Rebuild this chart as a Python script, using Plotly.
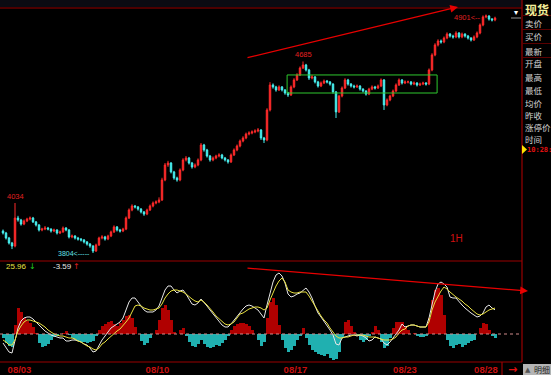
import plotly.graph_objects as go

# ---------------- data ----------------
OPEN = [3905,3896,3873,3850,3836,3965,3956,3937,3951,3960,
3965,3947,3933,3910,3914,3919,3914,3905,3910,3896,
3901,3919,3910,3878,3882,3873,3868,3864,3855,3845,
3836,3813,3841,3873,3878,3868,3882,3901,3924,3910,
3905,3914,3965,4002,4020,4016,4006,3993,3983,4002,
4020,4034,4039,4048,4140,4209,4218,4177,4149,4140,
4186,4232,4241,4218,4200,4209,4232,4301,4278,4250,
4232,4241,4250,4255,4241,4232,4223,4255,4278,4296,
4319,4333,4351,4356,4361,4365,4370,4333,4324,4462,
4577,4568,4554,4568,4554,4540,4531,4568,4600,4623,
4655,4669,4646,4609,4614,4591,4572,4586,4595,4591,
4581,4545,4453,4526,4563,4600,4581,4572,4568,4572,
4558,4549,4535,4558,4568,4563,4572,4600,4485,4508,
4526,4549,4577,4600,4586,4591,4591,4581,4586,4577,
4581,4586,4581,4646,4715,4761,4779,4775,4793,4811,
4802,4798,4816,4798,4811,4802,4793,4784,4798,4816,
4853,4890,4894,4880,4876]

CLOSE = [3896,3873,3850,3836,3965,3956,3937,3951,3960,3965,
3947,3933,3910,3914,3919,3914,3905,3910,3896,3901,
3919,3910,3878,3882,3873,3868,3864,3855,3845,3836,
3813,3841,3873,3878,3868,3882,3901,3924,3910,3905,
3914,3965,4002,4020,4016,4006,3993,3983,4002,4020,
4034,4039,4048,4140,4209,4218,4177,4149,4140,4186,
4232,4241,4218,4200,4209,4232,4301,4278,4250,4232,
4241,4250,4255,4241,4232,4223,4255,4278,4296,4319,
4333,4351,4356,4361,4365,4370,4333,4324,4462,4577,
4568,4554,4568,4554,4540,4531,4568,4600,4623,4655,
4669,4646,4609,4614,4591,4572,4586,4595,4591,4581,
4545,4453,4526,4563,4600,4581,4572,4568,4572,4558,
4549,4535,4558,4568,4563,4572,4600,4485,4508,4526,
4549,4577,4600,4586,4591,4591,4581,4586,4577,4581,
4586,4581,4646,4715,4761,4779,4775,4793,4811,4802,
4798,4816,4798,4811,4802,4793,4784,4798,4816,4853,
4890,4894,4880,4876,4885]

HIGH = [3912,3901,3878,3855,4034,3975,3961,3958,3966,3972,
3970,3951,3937,3920,3928,3924,3918,3916,3913,3907,
3926,3923,3914,3889,3886,3878,3873,3868,3859,3850,
3840,3847,3879,3886,3883,3888,3907,3931,3928,3915,
3920,3972,4009,4028,4025,4020,4011,3997,4008,4027,
4041,4046,4060,4150,4218,4228,4222,4182,4155,4193,
4240,4250,4246,4223,4216,4239,4310,4306,4283,4255,
4248,4256,4263,4260,4246,4236,4262,4285,4303,4326,
4341,4358,4364,4368,4373,4379,4374,4338,4470,4590,
4584,4573,4575,4572,4558,4545,4575,4608,4631,4662,
4685,4674,4651,4623,4618,4596,4593,4602,4600,4595,
4585,4549,4532,4570,4608,4605,4586,4578,4579,4576,
4562,4553,4564,4575,4573,4579,4607,4604,4515,4532,
4556,4584,4607,4604,4598,4597,4595,4593,4590,4588,
4592,4590,4653,4723,4769,4787,4786,4800,4819,4816,
4808,4824,4820,4818,4815,4807,4797,4805,4823,4860,
4897,4901,4898,4885,4891]

LOW = [3889,3866,3843,3822,3830,3948,3930,3932,3946,3954,
3942,3926,3903,3904,3909,3908,3898,3900,3889,3891,
3897,3904,3871,3872,3866,3861,3857,3848,3838,3828,
3804,3809,3836,3867,3861,3863,3877,3896,3903,3898,
3900,3909,3960,3996,4009,3999,3986,3975,3978,3997,
4014,4028,4033,4043,4134,4200,4170,4141,4132,4134,
4180,4225,4211,4192,4194,4203,4226,4270,4243,4224,
4226,4235,4244,4235,4225,4215,4218,4250,4272,4290,
4313,4327,4345,4350,4355,4359,4324,4310,4318,4455,
4560,4546,4549,4547,4532,4522,4526,4562,4595,4618,
4650,4639,4600,4603,4584,4565,4567,4581,4584,4574,
4537,4425,4448,4520,4558,4574,4565,4561,4563,4551,
4542,4528,4530,4553,4556,4558,4567,4462,4479,4502,
4521,4544,4572,4579,4581,4584,4575,4576,4570,4572,
4576,4574,4576,4640,4709,4754,4767,4769,4787,4795,
4790,4792,4791,4792,4795,4786,4777,4779,4792,4810,
4847,4884,4873,4869,4870]

DIF = [-9,-14,-18,-19,-6,6,13,16,17,17,
15,12,9,5,3,1,-1,-2,-3,-4,
-4,-7,-7,-6,-6,-7,-8,-10,-11,-14,
-18,-17,-11,-6,-2,2,6,8,10,12,
16,24,32,36,36,32,28,24,22,22,
22,24,28,36,44,48,48,44,41,43,
44,40,35,30,29,31,35,32,28,24,
20,16,12,9,7,7,10,14,17,21,
25,28,29,28,26,24,20,16,29,41,
52,59,61,58,51,40,37,38,40,41,
44,46,42,36,28,21,17,13,9,4,
-1,-10,-11,-4,-3,-2,-1,-1,-2,-1,
-2,-4,-7,-6,-3,-4,-5,-9,-11,-8,
-4,-1,4,10,7,8,9,9,8,7,
7,7,16,30,42,50,52,50,47,37,
36,36,32,29,26,23,21,19,17,18,
21,27,29,26,24.17]

DEA = [-6,-8,-11,-11,-6,3,8,12,14,14,
13,12,11,9,7,4,2,0,-1,-2,
-2,-3,-4,-4,-5,-7,-8,-10,-12,-13,
-15,-16,-14,-10,-8,-5,-2,1,3,5,
8,12,16,22,28,29,28,26,25,24,
24,25,26,30,36,40,43,44,44,43,
42,40,37,35,33,32,34,32,29,26,
22,18,15,12,10,9,10,12,16,20,
21,23,25,26,27,27,26,24,26,34,
42,48,53,56,52,44,42,41,41,42,
42,42,38,33,27,22,18,14,11,6,
2,-2,-4,-4,-3,-3,-2,-1,-1,-1,
-1,-2,-3,-3,-3,-4,-5,-6,-6,-6,
-5,-3,1,4,5,8,9,9,8,7,
7,7,12,24,32,38,43,47,45,42,
39,37,35,33,30,28,25,22,20,19,
20,22,24,25,25.96]

HIST = [-4,-9,-12,-13,9,26,22,16,13,11,
7,1,-9,-13,-12,-10,-6,-3,-2,0,
1,3,-1,-4,-6,-7,-8,-8,-9,-8,
-7,-2,4,8,10,12,13,10,8,11,
14,18,19,16,7,0,-7,-11,-9,-4,
0,4,14,26,29,24,14,2,0,4,
6,-2,-8,-12,-13,-10,-6,-10,-13,-14,
-13,-11,-12,-9,-6,-2,4,8,10,11,
11,10,8,4,0,-6,-12,-8,16,32,
36,29,9,-6,-14,-18,-16,-12,-6,-2,
6,-4,-11,-16,-18,-20,-21,-22,-20,-24,
-26,-25,-18,-4,12,14,8,2,-2,-6,
-8,-6,-2,2,8,4,-8,-14,-12,-4,
6,12,12,12,8,4,0,1,-2,-3,
-3,-2,16,34,44,46,39,19,-6,-12,
-14,-11,-10,-13,-11,-9,-7,-6,0,6,
11,10,4,-2,-3.59]

IDX = list(range(len(CLOSE)))
DATE_LABELS = ["08/03", "08/10", "08/17", "08/23", "08/28"]
DATE_IDX = [5.5, 51.5, 97.5, 134, 161]
RIGHT_LABELS = ["卖价", "买价", "最新", "开盘", "最高", "最低", "均价", "昨收", "涨停价", "时间"]
PEAK_LABELS = [("4034", 4, 4034), ("4685", 100, 4685)]

# ---------------- style ----------------
W, H = 551, 375
def px(x): return x / W
def py(y): return 1 - y / H

UP = "#ff2a2a"
DN = "#48f0f0"
FRAME = "#9a0000"
LINE_RED = "#e80000"

fig = go.Figure()
fig.add_trace(go.Candlestick(
    x=IDX, open=OPEN, high=HIGH, low=LOW, close=CLOSE,
    increasing=dict(line=dict(color=UP, width=1), fillcolor=UP),
    decreasing=dict(line=dict(color=DN, width=1), fillcolor=DN),
    whiskerwidth=0, hoverinfo="skip", xaxis="x", yaxis="y"))

fig.add_trace(go.Bar(
    x=IDX, y=HIST, width=1.0,
    marker=dict(color=["#b00000" if v >= 0 else "#20b0b0" for v in HIST], line=dict(width=0)),
    xaxis="x2", yaxis="y2", hoverinfo="skip"))
fig.add_trace(go.Scatter(x=IDX, y=DIF, mode="lines", line=dict(color="#e6e6e6", width=1),
                         xaxis="x2", yaxis="y2", hoverinfo="skip"))
fig.add_trace(go.Scatter(x=IDX, y=DEA, mode="lines", line=dict(color="#e8e040", width=1),
                         xaxis="x2", yaxis="y2", hoverinfo="skip"))

shapes = []
def hline(y, x0, x1, color=FRAME, width=1.2, dash="solid"):
    shapes.append(dict(type="line", xref="paper", yref="paper", x0=px(x0), x1=px(x1),
                       y0=py(y), y1=py(y), line=dict(color=color, width=width, dash=dash)))
def vline(x, y0, y1, color=FRAME, width=1.2):
    shapes.append(dict(type="line", xref="paper", yref="paper", x0=px(x), x1=px(x),
                       y0=py(y0), y1=py(y1), line=dict(color=color, width=width)))

# faint top strip
shapes.append(dict(type="rect", xref="paper", yref="paper", x0=0, x1=px(522),
                   y0=py(7), y1=1, fillcolor="#0b0b12", line=dict(width=0), layer="below"))
hline(8, 0, 522)
hline(261, 0, 522)
hline(362, 0, 522)
vline(522, 0, 362)
vline(502, 362, 375)
for yy in (15.5, 29.5, 43.5, 57.5):
    hline(yy, 523, 551, color="#5a0000", width=1)
hline(18, 511, 521, color="#909090", width=1)
# zero line of MACD
shapes.append(dict(type="line", xref="paper", yref="y2", x0=0, x1=px(521), y0=0, y1=0,
                   line=dict(color="#d08a8a", width=1, dash="dot")))
# consolidation box
shapes.append(dict(type="rect", xref="x", yref="y", x0=94.7, x1=144.7, y0=4540, y1=4623,
                   line=dict(color="#2ec82e", width=1)))
# bottom-right button
shapes.append(dict(type="rect", xref="paper", yref="paper", x0=px(523), x1=px(551),
                   y0=py(375), y1=py(364), fillcolor="#b4b4b4", line=dict(width=0)))
# yellow pointer
shapes.append(dict(type="path", xref="paper", yref="paper",
                   path=f"M {px(522)} {py(145)} L {px(527)} {py(149.5)} L {px(522)} {py(154)} Z",
                   fillcolor="#ffe000", line=dict(width=0)))

ann = []
def ptxt(x, y, text, font, xa="left", ya="middle"):
    ann.append(dict(xref="paper", yref="paper", x=px(x), y=py(y), text=text, showarrow=False,
                    xanchor=xa, yanchor=ya, font=font))

# trend arrows
ann.append(dict(xref="paper", yref="paper", x=px(458), y=py(7), ax=246 - 458, ay=58 - 7,
                text="", showarrow=True, arrowhead=2, arrowsize=1.2, arrowwidth=1.3,
                arrowcolor=LINE_RED, standoff=0))
ann.append(dict(xref="paper", yref="paper", x=px(528), y=py(291), ax=246 - 528, ay=268 - 291,
                text="", showarrow=True, arrowhead=2, arrowsize=1.2, arrowwidth=1.3,
                arrowcolor=LINE_RED, standoff=0))
numfont = dict(family="Liberation Sans", size=7.5, color="#e02020")
for t, i, v in PEAK_LABELS:
    ann.append(dict(xref="x", yref="y", x=i, y=v, text=t, showarrow=False,
                    xanchor="center", yanchor="bottom", font=numfont))
ann.append(dict(xref="x", yref="y", x=30, y=3804, text="3804<-----", showarrow=False,
                xanchor="right", yanchor="middle", xshift=-1,
                font=dict(family="Liberation Sans", size=7, color="#60e0e8")))
ann.append(dict(xref="x", yref="y", x=161, y=4901, text="4901<--", showarrow=False,
                xanchor="right", yanchor="middle", xshift=-3, yshift=-3, font=numfont))
ptxt(456, 238, "1H", dict(family="Liberation Sans", size=10, color="#d01010"), xa="center")
# MACD value labels
small = 8
ptxt(4, 266, "25.96", dict(family="Liberation Sans", size=small, color="#e8e040"))
ptxt(27, 266, "↓", dict(family="DejaVu Sans", size=small, color="#20d020"))
ptxt(51, 266, "-3.59", dict(family="Liberation Sans", size=small, color="#e6e6e6"))
ptxt(71, 266, "↑", dict(family="DejaVu Sans", size=small, color="#e02020"))
# right panel
cjk = "Noto Sans CJK SC"
ptxt(523, 9, "<b>现货</b>", dict(family=cjk, size=12, color="#f4ee9a"))
for lab, yy in zip(RIGHT_LABELS, [23, 36, 51, 63, 77, 90, 103, 115, 127, 139]):
    ptxt(523, yy, lab, dict(family=cjk, size=8.5, color="#d4d4d4"))
ptxt(525, 150, "<b>10:28:</b>", dict(family="DejaVu Sans Mono", size=7, color="#e01010"))
ptxt(516, 12, "▾", dict(family="DejaVu Sans", size=8, color="#ffffff"), xa="center")
ptxt(512, 369, "<b>→</b>", dict(family="DejaVu Sans", size=11, color="#e01010"), xa="center")
ptxt(528, 369.5, "▲", dict(family="DejaVu Sans", size=7, color="#555555"), xa="center")
ptxt(542, 369.5, "明细", dict(family=cjk, size=8, color="#202020"), xa="center")

xdom = [0, px(522)]
fig.update_layout(
    width=W, height=H, margin=dict(l=0, r=0, t=0, b=0),
    paper_bgcolor="#000000", plot_bgcolor="#000000", showlegend=False,
    bargap=0, hovermode=False,
    xaxis=dict(domain=xdom, range=[-1, 173], showgrid=False, zeroline=False, showline=False,
               showticklabels=False, rangeslider=dict(visible=False), anchor="y"),
    yaxis=dict(domain=[py(261), py(8)], range=[3767.2, 4931], showgrid=False, zeroline=False,
               showline=False, showticklabels=False, anchor="x"),
    xaxis2=dict(domain=xdom, matches="x", anchor="y2", showgrid=False, zeroline=False,
                showline=False, ticks="", tickvals=DATE_IDX, ticktext=DATE_LABELS,
                tickfont=dict(family="Liberation Sans", size=9.5, color="#c81010", weight="bold")),
    yaxis2=dict(domain=[py(362), py(262)], range=[-28, 72], showgrid=False, zeroline=False,
                showline=False, showticklabels=False, anchor="x2"),
    shapes=shapes, annotations=ann,
)
fig.write_html("out.html")
